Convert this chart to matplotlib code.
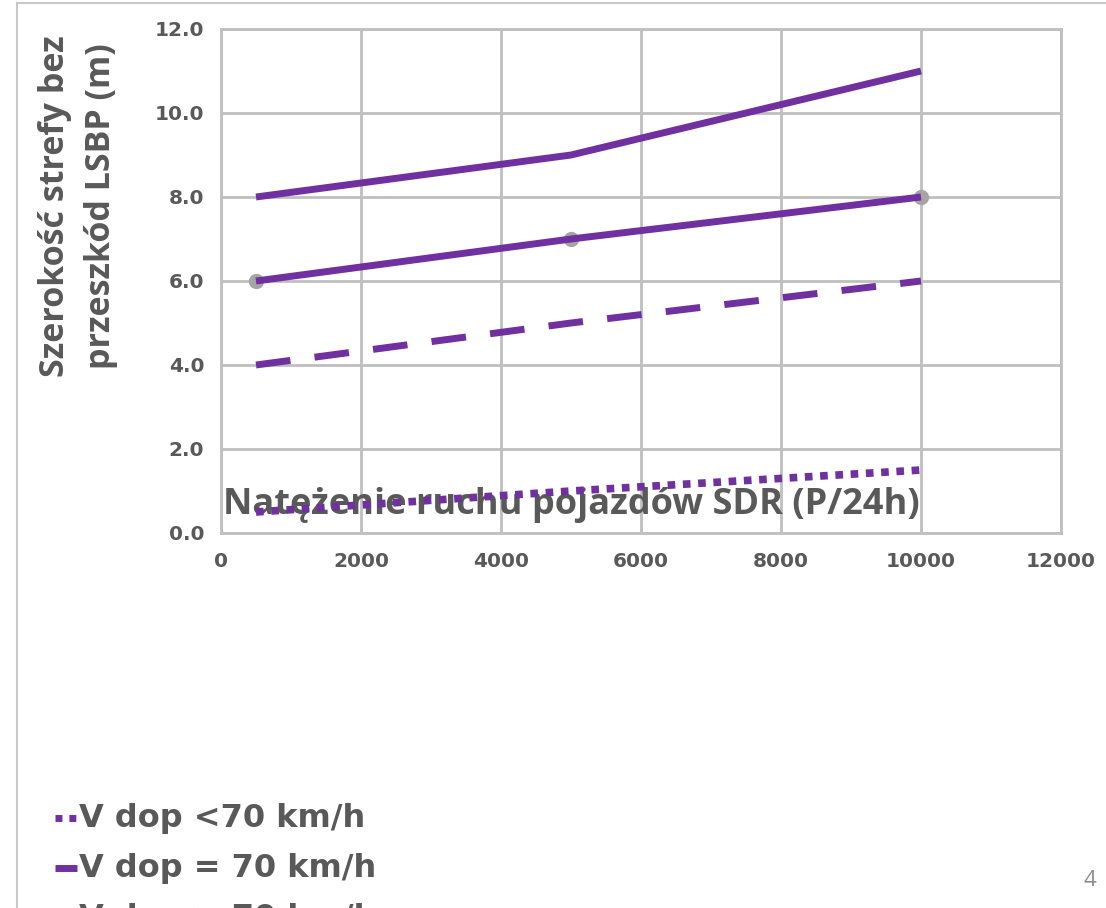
import matplotlib
matplotlib.use("Agg")
import matplotlib.pyplot as plt
from matplotlib.lines import Line2D

x_vals = [500, 5000, 10000]
v_lt70 = [0.5, 1.0, 1.5]
v_dashed = [4.0, 5.0, 6.0]
v_eq70 = [6.0, 7.0, 8.0]
v_top = [8.0, 9.0, 11.0]
x_ticks = [0, 2000, 4000, 6000, 8000, 10000, 12000]
y_ticks = [0, 2, 4, 6, 8, 10, 12]
legend_labels = ["V dop <70 km/h", "V dop = 70 km/h", "V dop > 70 km/h"]

purple = "#7030A0"
grey_txt = "#595959"
grid_c = "#BFBFBF"
WIDE = ["DejaVu Sans"]
MID = ["Open Sans", "DejaVu Sans"]

fig = plt.figure(figsize=(11.06, 9.08), dpi=100)
ax = fig.add_axes([221/1106, 1-533/908, (1061-221)/1106, (533-29)/908])

ax.plot(x_vals, v_top, color=purple, lw=5, solid_capstyle="butt", zorder=4)
ax.plot(x_vals, v_eq70, color=purple, lw=5, solid_capstyle="butt", zorder=4)
ax.plot(x_vals, v_eq70, ls="none", marker="o", ms=10, color="#A5A5A5", zorder=3)
ax.plot(x_vals, v_dashed, color=purple, lw=5, ls=(0, (5, 3.5)), dash_capstyle="butt", zorder=4)
ax.plot(x_vals, v_lt70, color=purple, lw=5.5, ls=(0, (1, 1)), dash_capstyle="butt", zorder=4)

ax.set_xlim(0, 12000)
ax.set_ylim(0, 12)
ax.set_xticks(x_ticks)
ax.set_yticks(y_ticks)
ax.set_xticklabels([str(v) for v in x_ticks])
ax.set_yticklabels([f"{v:.1f}" for v in y_ticks])
ax.grid(True, color=grid_c, lw=2)
ax.set_axisbelow(True)
for s in ax.spines.values():
    s.set_color(grid_c)
    s.set_linewidth(2)
ax.tick_params(axis="y", length=0, pad=12, labelcolor=grey_txt)
ax.tick_params(axis="x", length=0, pad=14, labelcolor=grey_txt)
for lab in ax.get_xticklabels() + ax.get_yticklabels():
    lab.set_fontfamily(WIDE)
    lab.set_fontweight("bold")
    lab.set_fontsize(14.5)

ax.text(0.002, 0.055, "Natężenie ruchu pojazdów SDR (P/24h)", transform=ax.transAxes,
        fontsize=26, fontweight="bold", color=grey_txt, family=MID,
        ha="left", va="center", zorder=3.5)

fig.text(78/1106, 1-206/908, "Szerokość strefy bez\nprzeszkód LSBP (m)", rotation=90,
         ha="center", va="center", fontsize=24.5, fontweight="bold", color=grey_txt,
         family=MID, linespacing=1.5)

# border lines
fig.add_artist(Line2D([17/1106, 17/1106], [0, 1-3/908], transform=fig.transFigure,
                      color="#C8C8C8", lw=1.5))
fig.add_artist(Line2D([17/1106, 1], [1-3/908, 1-3/908], transform=fig.transFigure,
                      color="#C8C8C8", lw=1.5))

# legend
styles = [dict(ls=(0, (1, 1))), dict(ls="-"), dict(ls=(0, (5, 3.5)))]
rows = [818, 868, 918]
for lab, st, yr in zip(legend_labels, styles, rows):
    yf = 1 - yr/908
    fig.add_artist(Line2D([55/1106, 77/1106], [yf, yf], transform=fig.transFigure,
                          color=purple, lw=5, dash_capstyle="butt",
                          solid_capstyle="butt", **st))
    fig.text(79/1106, yf, lab, ha="left", va="center", fontsize=23,
             fontweight="bold", color=grey_txt, family=WIDE)

fig.text(1090/1106, 1-880/908, "4", ha="center", va="center", fontsize=16,
         color="#8C8C8C", family=["Open Sans"])

fig.savefig("out.png", dpi=100, facecolor="white")
